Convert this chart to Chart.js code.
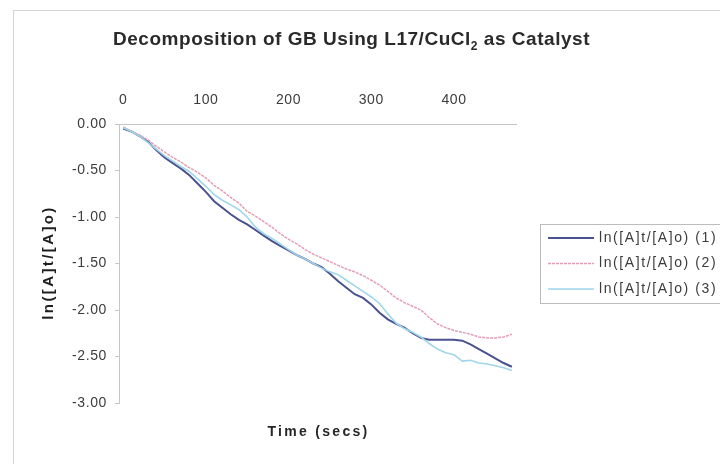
<!DOCTYPE html>
<html>
<head>
<meta charset="utf-8">
<script src="https://cdn.jsdelivr.net/npm/chart.js@4.4.1/dist/chart.umd.min.js"></script>
<style>
  html, body { margin: 0; padding: 0; background: #ffffff; }
  #wrap { width: 720px; height: 464px; }
</style>
</head>
<body>
<div id="wrap"><canvas id="c" width="720" height="464"></canvas></div>
<script>
// Sampling times (s)
const timeSecs = [0,10,20,30,40,50,60,70,80,90,100,110,120,130,140,150,160,170,180,190,200,
  210,220,230,240,250,260,270,280,290,300,310,320,330,340,350,360,370,380,390,400,
  410,420,430,440,450,460,470];

// ln([A]t/[A]o) for the three runs
const run1 = [-0.05,-0.08,-0.13,-0.19,-0.28,-0.36,-0.42,-0.48,-0.55,-0.64,
  -0.73,-0.83,-0.90,-0.97,-1.03,-1.08,-1.14,-1.20,-1.26,-1.31,
  -1.36,-1.41,-1.45,-1.50,-1.54,-1.61,-1.69,-1.76,-1.83,-1.87,
  -1.94,-2.03,-2.10,-2.15,-2.19,-2.25,-2.30,-2.32,-2.32,-2.32,
  -2.32,-2.33,-2.37,-2.42,-2.47,-2.52,-2.57,-2.61];
const run2 = [-0.03,-0.08,-0.12,-0.17,-0.24,-0.30,-0.36,-0.41,-0.47,-0.52,
  -0.58,-0.66,-0.72,-0.79,-0.85,-0.94,-0.99,-1.05,-1.11,-1.18,
  -1.24,-1.29,-1.35,-1.40,-1.44,-1.48,-1.52,-1.56,-1.59,-1.63,
  -1.68,-1.73,-1.80,-1.87,-1.92,-1.96,-2.00,-2.08,-2.15,-2.19,
  -2.22,-2.24,-2.26,-2.29,-2.30,-2.30,-2.29,-2.26];
const run3 = [-0.04,-0.08,-0.13,-0.20,-0.27,-0.34,-0.40,-0.46,-0.51,-0.59,
  -0.67,-0.76,-0.82,-0.87,-0.92,-1.00,-1.11,-1.18,-1.23,-1.29,
  -1.35,-1.41,-1.45,-1.50,-1.55,-1.59,-1.62,-1.68,-1.74,-1.80,
  -1.86,-1.93,-2.04,-2.14,-2.20,-2.24,-2.29,-2.36,-2.42,-2.46,
  -2.48,-2.55,-2.54,-2.57,-2.58,-2.60,-2.62,-2.65];

const seriesNames = ['ln([A]t/[A]o) (1)', 'ln([A]t/[A]o) (2)', 'ln([A]t/[A]o) (3)'];

const xTickValues = [0, 100, 200, 300, 400];
const xTickLabels = ['0', '100', '200', '300', '400'];
const yTickValues = [0, -0.5, -1, -1.5, -2, -2.5, -3];
const yTickLabels = ['0.00', '-0.50', '-1.00', '-1.50', '-2.00', '-2.50', '-3.00'];

const chartTitle = ['Decomposition of GB Using L17/CuCl', '2', ' as Catalyst'];
const xAxisTitle = 'Time (secs)';
const yAxisTitle = 'ln([A]t/[A]o)';

const FONT = '"Liberation Sans", Arial, sans-serif';
const AXIS_GREY = '#c6c6c6';
const TEXT_GREY = '#3c3c3c';

const toPoints = vals => timeSecs.map((t, i) => ({ x: t, y: vals[i] }));

// Frame, titles and legend
const decorations = {
  id: 'decorations',
  beforeDraw(chart) {
    const ctx = chart.ctx;
    ctx.save();
    ctx.fillStyle = '#ffffff';
    ctx.fillRect(0, 0, chart.width, chart.height);
    ctx.strokeStyle = '#d4d4d4';
    ctx.lineWidth = 1;
    ctx.strokeRect(13.5, 10.5, 800, 520);
    ctx.restore();
    ctx.letterSpacing = '0.6px';          // tick labels
  },
  afterDraw(chart) {
    const ctx = chart.ctx;
    const area = chart.chartArea;
    ctx.save();

    // Chart title with subscript, spread over its box
    const [head, sub, tail] = chartTitle;
    const big = 'bold 19px ' + FONT;
    const small = 'bold 12px ' + FONT;
    const left = 113, right = 590, base = 45;
    ctx.letterSpacing = '0px';
    ctx.font = big;
    const rawHead = ctx.measureText(head).width;
    const rawTail = ctx.measureText(tail).width;
    ctx.font = small;
    const rawSub = ctx.measureText(sub).width;
    const nChars = head.length + sub.length + tail.length;
    const spacing = Math.max(0, (right - left - rawHead - rawSub - rawTail) / nChars);
    ctx.letterSpacing = spacing + 'px';
    ctx.fillStyle = '#2a2a2a';
    ctx.textBaseline = 'alphabetic';
    ctx.textAlign = 'left';
    let x = left;
    ctx.font = big;
    ctx.fillText(head, x, base);
    x += rawHead + spacing * head.length;
    ctx.font = small;
    ctx.fillText(sub, x, base + 5);
    x += rawSub + spacing * sub.length;
    ctx.font = big;
    ctx.fillText(tail, x, base);

    // Axis titles
    ctx.letterSpacing = '2.3px';
    ctx.font = 'bold 14px ' + FONT;
    ctx.fillStyle = '#262626';
    ctx.textAlign = 'center';
    ctx.textBaseline = 'middle';
    ctx.fillText(xAxisTitle, (area.left + area.right) / 2 + 1, 432);

    ctx.save();
    ctx.translate(49, (area.top + area.bottom) / 2);
    ctx.rotate(-Math.PI / 2);
    ctx.letterSpacing = '2.4px';
    ctx.font = 'bold 15px ' + FONT;
    ctx.fillStyle = '#1e1e1e';
    ctx.fillText(yAxisTitle, 1, 0);
    ctx.restore();

    // Legend
    ctx.letterSpacing = '0px';
    ctx.textAlign = 'left';
    ctx.strokeStyle = '#bdbdbd';
    ctx.lineWidth = 1;
    ctx.setLineDash([]);
    ctx.strokeRect(540.5, 224.5, 220, 79);
    const rows = [238, 263.5, 289];
    chart.data.datasets.forEach((ds, i) => {
      const y = rows[i];
      ctx.save();
      ctx.strokeStyle = ds.borderColor;
      ctx.lineWidth = ds.borderWidth;
      ctx.setLineDash(ds.borderDash || []);
      ctx.beginPath();
      ctx.moveTo(548, y);
      ctx.lineTo(594, y);
      ctx.stroke();
      ctx.restore();
      ctx.letterSpacing = '1.6px';
      ctx.font = '14px ' + FONT;
      ctx.fillStyle = TEXT_GREY;
      ctx.textBaseline = 'middle';
      ctx.fillText(ds.label, 599, y);
    });
    ctx.restore();
    ctx.letterSpacing = '0px';
  }
};

new Chart(document.getElementById('c'), {
  type: 'line',
  data: {
    datasets: [
      { label: seriesNames[0], data: toPoints(run1), borderColor: '#4a5190', borderWidth: 2,
        pointRadius: 0, tension: 0, order: 3 },
      { label: seriesNames[1], data: toPoints(run2), borderColor: '#e59db4', borderWidth: 1.5,
        borderDash: [3, 1], pointRadius: 0, tension: 0, order: 2 },
      { label: seriesNames[2], data: toPoints(run3), borderColor: '#9ed6ea', borderWidth: 1.6,
        pointRadius: 0, tension: 0, order: 1 }
    ]
  },
  options: {
    responsive: false,
    animation: false,
    devicePixelRatio: 1,
    layout: { padding: { left: 14, right: 204, top: 0, bottom: 61 } },
    plugins: {
      legend: { display: false },
      title: { display: false },
      tooltip: { enabled: false }
    },
    scales: {
      x: {
        // half a 10 s step of margin on either side of the samples
        type: 'linear', position: 'top', min: -5, max: 475,
        afterBuildTicks(s) { s.ticks = xTickValues.map(v => ({ value: v })); },
        afterFit(s) { s.height = 124; },
        grid: { drawOnChartArea: false, drawTicks: false },
        border: { display: true, color: AXIS_GREY },
        ticks: { padding: 15, color: TEXT_GREY, font: { family: FONT, size: 14 },
          maxRotation: 0, autoSkip: false, callback: (v, i) => xTickLabels[i] }
      },
      y: {
        type: 'linear', position: 'left', min: -3, max: 0,
        afterBuildTicks(s) { s.ticks = yTickValues.map(v => ({ value: v })); },
        afterFit(s) { s.width = 105; },
        grid: { drawOnChartArea: false, drawTicks: true, tickLength: 4, tickColor: AXIS_GREY },
        border: { display: true, color: AXIS_GREY },
        ticks: { padding: 8, color: TEXT_GREY, font: { family: FONT, size: 14 },
          callback: (v, i) => yTickLabels[i] }
      }
    }
  },
  plugins: [decorations]
});
</script>
</body>
</html>
